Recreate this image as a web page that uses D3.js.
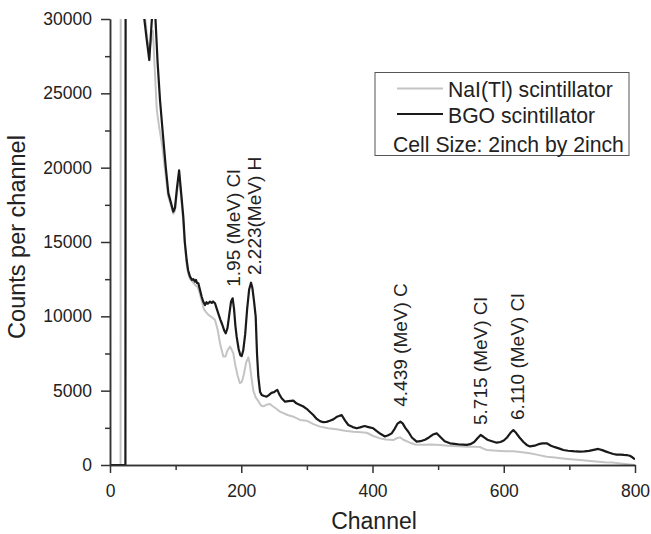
<!DOCTYPE html>
<html><head><meta charset="utf-8">
<script src="https://cdn.jsdelivr.net/npm/d3@7"></script>
<style>
body{margin:0;background:#fff}
svg{display:block}
text{font-family:"Liberation Sans",Arial,Helvetica,sans-serif;fill:#222}
</style>
</head><body>
<svg id="c" width="651" height="534"></svg>
<script>
// ---- data ----
const naiChannel = [0,16.1,16.4,49,53.3,57,60,63,65.5,68,71.3,75,79.5,84,88.5,92.5,96.5,99,102,105,108,111.5,114,116.8,119,122,126,130,134,137,140,143,146,150,155,160,164,168,172.7,176,179,182.9,185,187.9,191,194.5,198,201,204,207.5,210.8,213,215.5,218.4,222,226,230,234,238,243.8,248,253,259,266,272,279.4,289.5,299.7,310,320,332,345.4,358,370.8,382,391.2,401,411.4,420,431.7,437,442,447,457,465,475,490,502.9,515,530,543.5,555,563.8,569,574,585,595,605,614.6,625,640,652,665.4,678,690,702,716,728,740,754,767,778,788,800];
const naiCounts = [0,0,45000,34000,30200,28600,27900,28600,29200,26800,23880,22700,21500,19800,18100,17500,16900,17100,18300,19400,18200,16400,14800,13500,12900,12500,12300,12100,11950,11500,11000,10500,10300,10100,9950,9750,9100,8100,7290,7300,7700,7960,7800,7510,6700,6000,5500,5600,6100,6900,7240,6800,5900,5000,4550,4300,4000,3950,4050,4100,3950,3800,3590,3450,3350,3250,3030,2980,2750,2580,2470,2400,2300,2240,2200,2170,1950,1790,1720,1680,1800,1860,1700,1500,1380,1360,1380,1350,1300,1260,1230,1220,1210,1100,1010,970,950,930,920,870,790,680,560,500,440,390,340,290,240,190,160,100,50,0];

const bgoChannel = [0,23.5,23.9,48,52.3,56,59.9,63.5,67,69.3,72.5,76.2,80.5,84.9,88.9,92.5,96.5,99,102,105.3,108,111.7,114,116.8,119,121.9,125,127,129.5,131,132.5,134.6,137,139.7,142,144.8,147,149,152.4,155,157,160,162,165,168,171,174,176.3,179,182,184.5,186.9,189,191,193,196,198.5,200.7,203,206,209,212,214.9,217,219.5,222,224,226,228.6,231.1,235,238.7,242,246,250,253,255,258,261.6,266.7,272,279.4,284,289.5,294,299.7,304,309.8,315,320,325,330,335,340.3,346,353,358,363.2,370,375.9,381,388,394,401.2,406,412,419,424,429.2,434,438,442.5,446,450,454.6,460,467.3,473,480,486,492,497.8,503,510,518,525,532,538,543.5,549,555,560,564.8,569,575,582,589.2,595,600,605,610,614.6,619,624,630,635,640,647,653,659,665.4,672,678,685,690.8,698,705,710,716,723,730,737,744,750,756,761,767,772,778,783,787,792,796,800];
const bgoCounts = [0,0,45000,34000,30000,28600,27240,29800,31500,30000,27100,24550,22300,20060,18290,17700,17040,17300,18600,19820,18500,16700,15000,13790,13100,12670,12450,12500,12330,12450,12250,12220,11800,11320,11000,10760,10950,10850,10990,10900,11000,10880,10600,10200,9800,9450,9050,8860,9200,10200,11000,11210,10500,9400,8630,7800,7400,7330,7700,8800,10500,11800,12260,11900,11000,9980,7500,5940,4930,4710,4640,4600,4700,4850,4900,5000,5050,4750,4490,4260,4300,4330,4150,4040,3950,3780,3600,3360,3100,2950,2880,2900,2980,3070,3250,3360,3000,2690,2550,2470,2530,2620,2550,2470,2300,2100,1920,2000,2130,2450,2780,2910,2800,2500,2240,1850,1570,1600,1700,1850,2050,2130,1900,1600,1460,1420,1380,1370,1350,1400,1550,1800,2020,1900,1700,1600,1500,1550,1650,1850,2150,2350,2150,1850,1550,1350,1250,1300,1400,1450,1460,1300,1200,1100,1010,960,930,910,900,920,950,1020,1080,1000,900,820,740,700,700,680,670,620,520,380];

const xMajorTicks = [0,200,400,600,800];
const xMinorTicks = [100,300,500,700];
const yMajorTicks = [0,5000,10000,15000,20000,25000,30000];
const yMinorTicks = [2500,7500,12500,17500,22500,27500];

const seriesNames = ["NaI(Tl) scintillator","BGO scintillator"];
const seriesColors = ["#c4c4c4","#1a1a1a"];
const legendNote = "Cell Size: 2inch by 2inch";

const peakLabels = ["1.95 (MeV) Cl","2.223(MeV) H","4.439 (MeV) C","5.715 (MeV) Cl","6.110 (MeV) Cl"];
const peakLabelChannel = [198.1,230.1,453.3,575.2,631.6];
const peakLabelCounts = [11990,12780,3920,2690,3030];

// ---- chart ----
const svg = d3.select("#c");
svg.append("rect").attr("width",651).attr("height",534).attr("fill","#fff");

const x = d3.scaleLinear().domain([0,800]).range([110,635]);
const y = d3.scaleLinear().domain([0,30000]).range([465,19]);

svg.append("clipPath").attr("id","clip").append("rect")
  .attr("x",110).attr("y",19).attr("width",525).attr("height",446);

const line = d3.line().x(d=>x(d[0])).y(d=>y(d[1]));
const nai = naiChannel.map((c,i)=>[c,naiCounts[i]]);
const bgo = bgoChannel.map((c,i)=>[c,bgoCounts[i]]);

const g = svg.append("g").attr("clip-path","url(#clip)");
g.append("path").datum(nai).attr("d",line).attr("fill","none")
  .attr("stroke",seriesColors[0]).attr("stroke-width",2).attr("stroke-linejoin","round");
g.append("path").datum(bgo).attr("d",line).attr("fill","none")
  .attr("stroke",seriesColors[1]).attr("stroke-width",2.2).attr("stroke-linejoin","round");

// axes
const axisColor = "#333";
function styleAxis(sel){
  sel.selectAll("path,line").attr("stroke",axisColor).attr("stroke-width",1.5);
  sel.selectAll("text").style("font-size","17.5px").attr("fill","#222")
     .style("font-family","'Liberation Sans',Arial,sans-serif");
}
const xAxis = svg.append("g").attr("transform","translate(0,465)")
  .call(d3.axisBottom(x).tickValues(xMajorTicks).tickFormat(d3.format("d")).tickSize(8).tickPadding(12).tickSizeOuter(0));
styleAxis(xAxis);
const xMinor = svg.append("g").attr("transform","translate(0,465)")
  .call(d3.axisBottom(x).tickValues(xMinorTicks).tickFormat("").tickSize(5).tickSizeOuter(0));
styleAxis(xMinor);

const yAxis = svg.append("g").attr("transform","translate(110,0)")
  .call(d3.axisLeft(y).tickValues(yMajorTicks).tickFormat(d3.format("d")).tickSize(9).tickPadding(9).tickSizeOuter(0));
styleAxis(yAxis);
const yMinor = svg.append("g").attr("transform","translate(110,0)")
  .call(d3.axisLeft(y).tickValues(yMinorTicks).tickFormat("").tickSize(5).tickSizeOuter(0));
styleAxis(yMinor);

// axis titles
svg.append("text").attr("x",374).attr("y",529).attr("text-anchor","middle")
  .style("font-size","23px").text("Channel");
svg.append("text").attr("transform","translate(25,237) rotate(-90)").attr("text-anchor","middle")
  .style("font-size","23.5px").text("Counts per channel");

// peak annotations
peakLabels.forEach((t,i)=>{
  svg.append("text")
    .attr("transform",`translate(${x(peakLabelChannel[i])},${y(peakLabelCounts[i])}) rotate(-90)`)
    .attr("text-anchor","start").style("font-size","19px").text(t);
});

// legend
const lg = svg.append("g");
lg.append("rect").attr("x",375).attr("y",72.5).attr("width",254).attr("height",83)
  .attr("fill","#fff").attr("stroke","#555").attr("stroke-width",1);
const rowsY = [88.5,114];
seriesNames.forEach((n,i)=>{
  lg.append("line").attr("x1",397).attr("x2",443).attr("y1",rowsY[i]).attr("y2",rowsY[i])
    .attr("stroke",seriesColors[i]).attr("stroke-width",2);
  lg.append("text").attr("x",448).attr("y",rowsY[i]+8.5).style("font-size","21.2px").text(n);
});
lg.append("text").attr("x",393).attr("y",151.5).style("font-size","21.2px").text(legendNote);
</script>
</body></html>
